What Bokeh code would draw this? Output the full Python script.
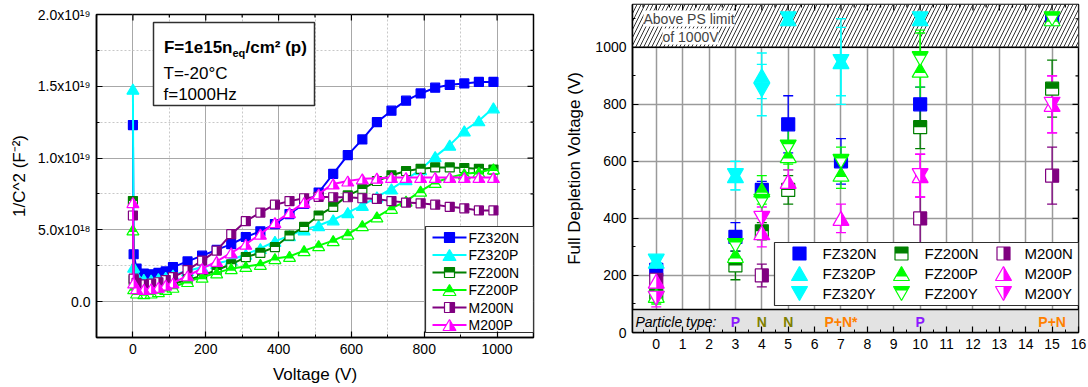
from bokeh.plotting import figure
from bokeh.layouts import row
from bokeh.models import Range1d, FixedTicker, Label
from bokeh.embed import file_html
from bokeh.resources import INLINE

FONT = "Liberation Sans"

# ---------------- left panel: 1/C^2 versus bias voltage ----------------
voltage = [0, 2, 10, 30, 50, 70, 90, 110, 150, 190, 230, 270, 310, 350, 390,
           430, 470, 510, 550, 590, 630, 670, 710, 750, 790, 830, 870, 910, 950, 990]

# 1/C^2 in units of 1e18 F^-2
cv_fz320n = [12.3, 3.3, 2.3, 1.95, 1.9, 2.0, 2.1, 2.4, 2.8, 3.2, 3.6, 4.0, 4.5, 4.9, 5.4,
             6.1, 6.8, 7.6, 8.9, 10.2, 11.3, 12.5, 13.3, 14.0, 14.5, 14.9, 15.1, 15.2, 15.3, 15.3]
cv_fz320p = [14.8, 2.4, 1.8, 1.55, 1.5, 1.6, 1.7, 1.85, 2.15, 2.4, 2.65, 2.9, 3.3, 3.7, 4.2,
             4.6, 5.0, 5.3, 5.7, 6.2, 6.7, 7.3, 7.85, 8.5, 9.2, 10.1, 10.9, 11.9, 12.6, 13.5]
cv_fz200n = [7.0, 1.5, 1.1, 0.95, 0.95, 1.0, 1.1, 1.25, 1.5, 1.8, 2.2, 2.6, 3.1, 3.4, 3.8,
             4.6, 5.2, 6.0, 6.6, 7.4, 7.85, 8.4, 8.8, 9.1, 9.25, 9.35, 9.35, 9.3, 9.25, 9.2]
cv_fz200p = [5.0, 0.9, 0.6, 0.55, 0.6, 0.7, 0.85, 1.0, 1.4, 1.7, 2.0, 2.3, 2.45, 2.6, 3.0,
             3.15, 3.55, 3.9, 4.25, 4.7, 5.3, 5.9, 6.5, 7.0, 7.7, 8.3, 8.65, 8.9, 9.0, 9.25]
cv_m200n = [6.0, 1.6, 1.3, 1.2, 1.25, 1.35, 1.5, 1.7, 2.2, 2.85, 3.55, 4.7, 5.6, 6.2, 6.75,
            7.0, 7.2, 7.3, 7.27, 7.27, 7.2, 7.15, 7.0, 6.9, 6.85, 6.75, 6.6, 6.5, 6.35, 6.35]
cv_m200p = [6.9, 1.3, 0.9, 0.85, 0.9, 1.0, 1.15, 1.3, 1.8, 2.3, 2.8, 3.4, 4.0, 4.7, 5.5,
            6.2, 6.9, 7.5, 8.2, 8.4, 8.55, 8.6, 8.65, 8.65, 8.65, 8.65, 8.65, 8.65, 8.65, 8.65]

cv_ticks = [0, 5, 10, 15, 20]
cv_tick_labels = ["0.0", "5.0x10¹⁸", "1.0x10¹⁹", "1.5x10¹⁹", "2.0x10¹⁹"]

# ---------------- right panel: full depletion voltage versus fluence ----------------
fz320n_flu = [0, 3, 4, 5, 7, 10, 15]
fz320n_vfd = [220, 335, 500, 730, 600, 800, 1100]
fz320n_err = [25, 50, 30, 100, 80, 60, 0]

fz320p_flu = [0, 3, 4, 5, 7, 10]
fz320p_vfd = [250, 550, 900, 1100, 950, 1100]
fz320p_err = [20, 50, 80, 0, 150, 0]

fz320y_flu = [0, 3, 4, 5, 7, 10]
fz320y_vfd = [250, 550, 850, 1100, 950, 1100]
fz320y_err = [20, 50, 90, 0, 120, 0]

fz200n_flu = [0, 3, 4, 5, 10, 15]
fz200n_vfd = [135, 235, 355, 500, 720, 855]
fz200n_err = [20, 50, 30, 50, 75, 100]

fz200p_flu = [0, 3, 4, 5, 7, 10, 15]
fz200p_vfd = [130, 270, 500, 620, 555, 920, 1100]
fz200p_err = [20, 40, 50, 50, 50, 130, 0]

fz200y_flu = [0, 3, 4, 5, 7, 10, 15]
fz200y_vfd = [120, 305, 460, 650, 600, 960, 1100]
fz200y_err = [20, 40, 40, 60, 50, 100, 0]

m200n_flu = [0, 4, 10, 15]
m200n_vfd = [185, 200, 400, 550]
m200n_err = [20, 40, 150, 100]

m200p_flu = [0, 4, 5, 7, 10, 15]
m200p_vfd = [180, 350, 530, 400, 550, 800]
m200p_err = [50, 50, 40, 50, 75, 100]

m200y_flu = [0, 4, 10, 15]
m200y_vfd = [120, 400, 550, 800]
m200y_err = [30, 40, 75, 100]

ps_limit = 1000
particle_flu = [3, 4, 5, 7, 10, 15]
particle_txt = ["P", "N", "N", "P+N*", "P", "P+N"]
particle_col = {"P": "#8C1AFF", "N": "#808000", "P+N*": "#FF8000", "P+N": "#FF8000"}

C_FZ320N, C_FZ320P = "#0000FF", "#00FFFF"
C_FZ200N, C_FZ200P = "#008000", "#00FF00"
C_M200N, C_M200P = "#800080", "#FF00FF"


class Frame:
    """Maps canvas pixel positions of a plot frame to data coordinates."""

    def __init__(self, xr, yr, left, top, w, h):
        self.xr, self.yr, self.left, self.top = xr, yr, left, top
        self.sx = w / (xr[1] - xr[0])
        self.sy = h / (yr[1] - yr[0])

    def x(self, px):
        return self.xr[0] + (px - self.left) / self.sx

    def y(self, py):
        return self.yr[1] - (py - self.top) / self.sy


def shape(kind, w, h):
    if kind == "square":
        return [(-w / 2, -h / 2), (w / 2, -h / 2), (w / 2, h / 2), (-w / 2, h / 2)]
    if kind == "up":
        return [(-w / 2, -h / 2), (w / 2, -h / 2), (0, h / 2)]
    return [(-w / 2, h / 2), (w / 2, h / 2), (0, -h / 2)]


def half(kind, part, w, h):
    if kind == "square":
        if part == "top":
            return [(-w / 2, 0), (w / 2, 0), (w / 2, h / 2), (-w / 2, h / 2)]
        return [(0, -h / 2), (w / 2, -h / 2), (w / 2, h / 2), (0, h / 2)]
    if kind == "up":
        if part == "top":
            d = 0.707 * h
            hw = (w / 2) * d / h
            return [(-hw, h / 2 - d), (hw, h / 2 - d), (0, h / 2)]
        return [(0, -h / 2), (w / 2, -h / 2), (0, h / 2)]
    if part == "top":
        t = 0.293 * h
        hw = (w / 2) * (h - t) / h
        return [(-w / 2, h / 2), (w / 2, h / 2), (hw, h / 2 - t), (-hw, h / 2 - t)]
    return [(0, h / 2), (w / 2, h / 2), (0, -h / 2)]


def place(fr, xs, ys, offs):
    pxs = [[x + ox / fr.sx for ox, _ in offs] for x in xs]
    pys = [[y + oy / fr.sy for _, oy in offs] for y in ys]
    return pxs, pys


def draw_markers(p, fr, xs, ys, kind, fill, color, w, h, lw=1.2):
    outline = shape(kind, w, h)
    if fill == "full":
        p.patches(*place(fr, xs, ys, outline), fill_color=color, line_color=color, line_width=lw)
        return
    p.patches(*place(fr, xs, ys, outline), fill_color="white", line_color=None)
    p.patches(*place(fr, xs, ys, half(kind, fill, w, h)), fill_color=color, line_color=None)
    p.patches(*place(fr, xs, ys, outline), fill_color=None, line_color=color, line_width=lw)


def inner_ticks(p, fr, xt, xm, yt, ym):
    """Inward tick marks along the top and right edges of the frame."""
    x0, x1 = fr.xr
    y0, y1 = fr.yr
    for ticks, ln in ((xt, 6), (xm, 3)):
        p.segment(ticks, [y1] * len(ticks), ticks, [y1 - ln / fr.sy] * len(ticks),
                  line_color="black", line_width=1.2)
    for ticks, ln in ((yt, 6), (ym, 3)):
        p.segment([x1] * len(ticks), ticks, [x1 - ln / fr.sx] * len(ticks), ticks,
                  line_color="black", line_width=1.2)


def style_axis(ax):
    ax.axis_line_color = "black"
    ax.axis_line_width = 1.5
    ax.major_tick_in = 6
    ax.major_tick_out = 0
    ax.minor_tick_in = 3
    ax.minor_tick_out = 0
    ax.major_tick_line_color = "black"
    ax.minor_tick_line_color = "black"
    ax.major_tick_line_width = 1.2
    ax.major_label_text_font = FONT
    ax.major_label_text_font_size = "14px"
    ax.major_label_text_color = "black"
    ax.major_label_standoff = 6
    ax.axis_label_text_font = FONT
    ax.axis_label_text_font_size = "17px"
    ax.axis_label_text_font_style = "normal"
    ax.axis_label_text_color = "black"


def txt(p, x, y, s, size="14px", align="left", baseline="middle", style="normal", color="black"):
    p.add_layout(Label(x=x, y=y, text=s, text_font=FONT, text_font_size=size, text_align=align,
                       text_baseline=baseline, text_font_style=style, text_color=color))


def free_frame(p):
    """Keep each panel's frame where its own borders put it."""
    try:
        p.frame_align = False
    except AttributeError:
        pass


# ======================= left figure =======================
X1, Y1 = (-100, 1100), (-2.5, 20)
F1 = Frame(X1, Y1, left=96, top=14, w=437, h=323)

p1 = figure(width=560, height=387, x_range=Range1d(*X1), y_range=Range1d(*Y1), title=None,
            output_backend="svg", toolbar_location=None,
            min_border_left=96, min_border_right=27, min_border_top=14, min_border_bottom=50)
free_frame(p1)
p1.outline_line_color = "black"
p1.outline_line_width = 1.5
p1.background_fill_color = "white"

x_major1 = [0, 200, 400, 600, 800, 1000]
x_minor1 = [-100, 100, 300, 500, 700, 900]
y_minor1 = [-2.5, 2.5, 7.5, 12.5, 17.5]
xt1 = FixedTicker(ticks=x_major1, minor_ticks=x_minor1)
yt1 = FixedTicker(ticks=cv_ticks, minor_ticks=y_minor1)
p1.xaxis.ticker = xt1
p1.yaxis.ticker = yt1
p1.yaxis.major_label_overrides = dict(zip(cv_ticks, cv_tick_labels))
p1.xaxis.axis_label = "Voltage (V)"
p1.yaxis.axis_label = "1/C^2 (F⁻²)"
style_axis(p1.xaxis[0])
style_axis(p1.yaxis[0])
p1.xaxis.axis_label_standoff = 8
p1.yaxis.axis_label_standoff = 6

for g, t in ((p1.xgrid, xt1), (p1.ygrid, yt1)):
    g.ticker = t
    g.grid_line_color = "#A8A8A8"
    g.grid_line_width = 1
    g.minor_grid_line_color = "#C8C8C8"
    g.minor_grid_line_dash = "2 2"

inner_ticks(p1, F1, x_major1, x_minor1, cv_ticks, y_minor1)

cv_series = [
    ("FZ320N", cv_fz320n, C_FZ320N, "square", "full"),
    ("FZ320P", cv_fz320p, C_FZ320P, "up", "full"),
    ("FZ200N", cv_fz200n, C_FZ200N, "square", "top"),
    ("FZ200P", cv_fz200p, C_FZ200P, "up", "top"),
    ("M200N", cv_m200n, C_M200N, "square", "right"),
    ("M200P", cv_m200p, C_M200P, "up", "right"),
]
msize1 = {"square": (9, 9), "up": (12, 10)}
for name, vals, col, kind, fill in cv_series:
    p1.line(voltage, vals, line_color=col, line_width=2)
    w, h = msize1[kind]
    draw_markers(p1, F1, voltage, vals, kind, fill, col, w, h)

# condition box
p1.quad(left=F1.x(153), right=F1.x(314), top=F1.y(22), bottom=F1.y(105),
        fill_color="white", line_color="#303030", line_width=1.5)
txt(p1, F1.x(232), F1.y(47), "F=1e15n", size="17px", align="right", baseline="alphabetic", style="bold")
txt(p1, F1.x(232), F1.y(52), "eq", size="11px", baseline="alphabetic", style="bold")
txt(p1, F1.x(245), F1.y(47), "/cm² (p)", size="17px", baseline="alphabetic", style="bold")
txt(p1, F1.x(163), F1.y(73), "T=-20°C", size="17px", baseline="alphabetic")
txt(p1, F1.x(163), F1.y(94), "f=1000Hz", size="17px", baseline="alphabetic")

# legend
p1.quad(left=F1.x(425), right=F1.x(533), top=F1.y(226), bottom=F1.y(332),
        fill_color="white", line_color="#303030", line_width=1.2)
for i, (name, vals, col, kind, fill) in enumerate(cv_series):
    ry = F1.y(237 + 17.5 * i)
    p1.line([F1.x(432), F1.x(466)], [ry, ry], line_color=col, line_width=2)
    w, h = msize1[kind]
    draw_markers(p1, F1, [F1.x(449)], [ry], kind, fill, col, w + 1, h + 1)
    txt(p1, F1.x(468), ry, name, size="14px")

# ======================= right figure =======================
X2, Y2 = (-0.9, 16), (0, 1150)
F2 = Frame(X2, Y2, left=632, top=4, w=446, h=328)

p2 = figure(width=528, height=387, x_range=Range1d(*X2), y_range=Range1d(*Y2), title=None,
            output_backend="svg", toolbar_location=None,
            min_border_left=72, min_border_right=10, min_border_top=4, min_border_bottom=55)
free_frame(p2)
p2.outline_line_color = "black"
p2.outline_line_width = 1.5

x_major2 = list(range(0, 17))
x_minor2 = [i + 0.5 for i in range(-1, 16)]
y_major2 = [0, 200, 400, 600, 800, 1000]
y_minor2 = [100, 300, 500, 700, 900, 1100]
p2.xaxis.ticker = FixedTicker(ticks=x_major2, minor_ticks=x_minor2)
p2.yaxis.ticker = FixedTicker(ticks=y_major2, minor_ticks=y_minor2)
p2.yaxis.axis_label = "Full Depletion Voltage (V)"
style_axis(p2.xaxis[0])
style_axis(p2.yaxis[0])
p2.yaxis.axis_label_standoff = 8
p2.xgrid.ticker = FixedTicker(ticks=list(range(0, 16)))
p2.ygrid.ticker = FixedTicker(ticks=[200, 400, 600, 800, 1000])
for g in (p2.xgrid, p2.ygrid):
    g.grid_line_color = "#9A9A9A"
    g.grid_line_width = 1.5

# region above the power-supply limit
p2.quad(left=X2[0], right=X2[1], bottom=ps_limit, top=Y2[1], fill_color="white",
        hatch_pattern="/", hatch_color="black", hatch_scale=8, hatch_weight=0.8, line_color=None)
p2.line([X2[0], X2[1]], [ps_limit, ps_limit], line_color="black", line_width=1.5)
p2.add_layout(Label(x=F2.x(643), y=F2.y(18), text="Above PS limit", text_font=FONT,
                    text_font_size="14px", text_baseline="middle", background_fill_color="white"))
p2.add_layout(Label(x=F2.x(662), y=F2.y(36), text="of 1000V", text_font=FONT,
                    text_font_size="14px", text_baseline="middle", background_fill_color="white"))

# particle type band
band_top = F2.y(309)
p2.quad(left=X2[0], right=X2[1], bottom=Y2[0], top=band_top, fill_color="#E3E3E3", line_color=None)
p2.line([X2[0], X2[1]], [band_top, band_top], line_color="black", line_width=1.5)
band_mid = F2.y(321)
txt(p2, F2.x(635), band_mid, "Particle type:", size="14px", style="italic")
for fx, s in zip(particle_flu, particle_txt):
    txt(p2, fx, band_mid, s, size="14px", align="center", style="bold", color=particle_col[s])

inner_ticks(p2, F2, x_major2, x_minor2, y_major2, y_minor2)

vfd_series = [
    ("FZ320N", fz320n_flu, fz320n_vfd, fz320n_err, C_FZ320N, "square", "full"),
    ("FZ320P", fz320p_flu, fz320p_vfd, fz320p_err, C_FZ320P, "up", "full"),
    ("FZ320Y", fz320y_flu, fz320y_vfd, fz320y_err, C_FZ320P, "down", "full"),
    ("FZ200N", fz200n_flu, fz200n_vfd, fz200n_err, C_FZ200N, "square", "top"),
    ("FZ200P", fz200p_flu, fz200p_vfd, fz200p_err, C_FZ200P, "up", "top"),
    ("FZ200Y", fz200y_flu, fz200y_vfd, fz200y_err, C_FZ200P, "down", "top"),
    ("M200N", m200n_flu, m200n_vfd, m200n_err, C_M200N, "square", "right"),
    ("M200P", m200p_flu, m200p_vfd, m200p_err, C_M200P, "up", "right"),
    ("M200Y", m200y_flu, m200y_vfd, m200y_err, C_M200P, "down", "right"),
]
msize2 = {"square": (13, 13), "up": (16, 14), "down": (16, 14)}
cap = 5 / F2.sx
for name, fl, vf, er, col, kind, fill in vfd_series:
    pts = [(x, y, e) for x, y, e in zip(fl, vf, er) if e > 0]
    if pts:
        xs = [a for a, _, _ in pts]
        lo = [b - e for _, b, e in pts]
        hi = [b + e for _, b, e in pts]
        p2.segment(xs, lo, xs, hi, line_color=col, line_width=1.3)
        p2.segment([x - cap for x in xs], lo, [x + cap for x in xs], lo, line_color=col, line_width=1.3)
        p2.segment([x - cap for x in xs], hi, [x + cap for x in xs], hi, line_color=col, line_width=1.3)
for name, fl, vf, er, col, kind, fill in vfd_series:
    w, h = msize2[kind]
    draw_markers(p2, F2, fl, vf, kind, fill, col, w, h)

# legend
p2.quad(left=F2.x(774), right=F2.x(1078), top=F2.y(242), bottom=F2.y(305),
        fill_color="white", line_color="#303030", line_width=1.2)
leg_mx = [799, 901, 1003]
leg_tx = [822, 924, 1024]
leg_ry = [253, 273, 293]
for i, (name, fl, vf, er, col, kind, fill) in enumerate(vfd_series):
    c, r = divmod(i, 3)
    ry = F2.y(leg_ry[r])
    w, h = msize2[kind]
    draw_markers(p2, F2, [F2.x(leg_mx[c])], [ry], kind, fill, col, w, h)
    txt(p2, F2.x(leg_tx[c]), ry, name, size="15px")

# x-axis title with subscript
txt(p2, F2.x(887), F2.y(377), "Fluence (1e14n", size="17px", align="right", baseline="alphabetic")
txt(p2, F2.x(887), F2.y(381), "eq", size="11px", baseline="alphabetic")
txt(p2, F2.x(899.5), F2.y(377), "/cm²)", size="17px", baseline="alphabetic")

layout = row(p1, p2)
open("out.html", "w").write(file_html(layout, INLINE))
